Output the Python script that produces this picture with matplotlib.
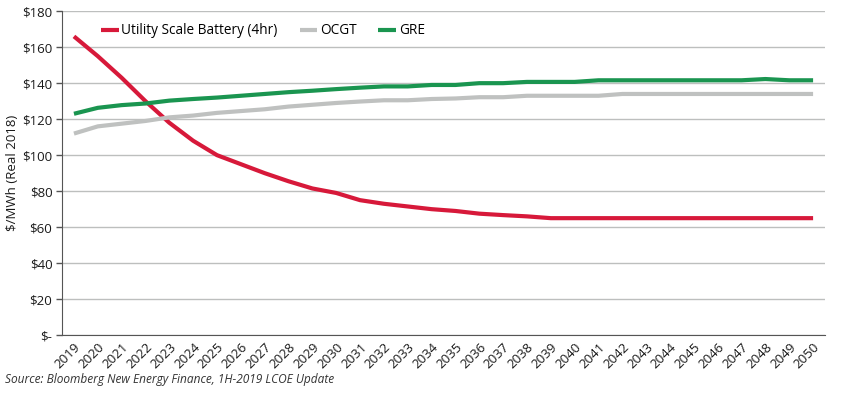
import numpy as np
import matplotlib.pyplot as plt

years = [str(y) for y in range(2019, 2051)]

battery = [166, 155, 143, 130, 118, 108, 100, 95, 90, 85.5, 81.5, 79, 75, 73, 71.5, 70,
           69, 67.5, 66.7, 66, 65, 65, 65, 65, 65, 65, 65, 65, 65, 65, 65, 65]
ocgt = [112, 116, 117.5, 119, 121, 122, 123.5, 124.5, 125.5, 127, 128, 129, 129.8, 130.5,
        130.5, 131.2, 131.5, 132.2, 132.2, 133, 133, 133, 133, 134, 134, 134, 134, 134,
        134, 134, 134, 134]
gre = [123, 126.3, 127.8, 128.7, 130.3, 131.2, 132, 133, 134, 135, 135.8, 136.7, 137.5,
       138.2, 138.2, 139, 139, 140, 140, 140.7, 140.7, 140.7, 141.6, 141.6, 141.6, 141.6,
       141.6, 141.6, 141.6, 142.3, 141.6, 141.6]

yticks = [0, 20, 40, 60, 80, 100, 120, 140, 160, 180]
ytick_labels = ['$-', '$20', '$40', '$60', '$80', '$100', '$120', '$140', '$160', '$180']

plt.rcParams['font.family'] = ['Open Sans', 'DejaVu Sans']

fig = plt.figure(figsize=(8.44, 3.99), dpi=100)
ax = fig.add_axes([0.0735, 0.160, 0.904, 0.812])

x = np.arange(len(years))
ax.plot(x, battery, color='#D7193A', lw=3, label='Utility Scale Battery (4hr)', solid_capstyle='butt')
ax.plot(x, ocgt, color='#BFC1C0', lw=3, label='OCGT', solid_capstyle='butt')
ax.plot(x, gre, color='#1A9550', lw=3, label='GRE', solid_capstyle='butt')

ax.set_xlim(-0.5, len(years) - 0.5)
ax.set_ylim(0, 180)
ax.set_yticks(yticks)
ax.set_yticklabels(ytick_labels, fontsize=9.5, color='#1a1a1a')
ax.set_xticks(x)
ax.set_xticklabels(years, rotation=45, ha='right', va='top', rotation_mode='anchor',
                   fontsize=9.5, color='#1a1a1a')
ax.tick_params(axis='x', length=0, pad=4)
ax.tick_params(axis='y', length=4, color='#555555', width=1, pad=3)

ax.grid(axis='y', color='#BDBFBE', lw=1)
ax.set_axisbelow(True)
for s in ['top', 'right']:
    ax.spines[s].set_visible(False)
ax.spines['left'].set_color('#555555')
ax.spines['bottom'].set_color('#555555')

ax.set_ylabel('$/MWh (Real 2018)', fontsize=9.5, color='#1a1a1a', labelpad=2)

ax.legend(loc='upper left', bbox_to_anchor=(0.035, 1.0), ncol=3, frameon=False,
          fontsize=9.8, handlelength=1.3, handletextpad=0.2, columnspacing=1.6)

fig.text(0.006, 0.04, 'Source: Bloomberg New Energy Finance, 1H-2019 LCOE Update',
         fontsize=8.6, style='italic', color='#333333')

fig.savefig('out.png', dpi=100)
